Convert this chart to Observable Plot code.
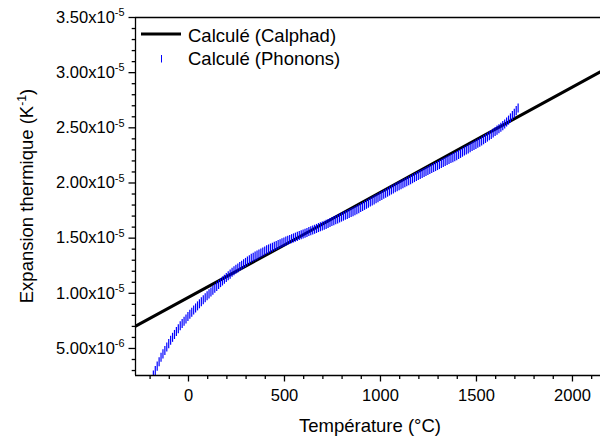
<!DOCTYPE html>
<html><head><meta charset="utf-8">
<script src="https://cdn.jsdelivr.net/npm/d3@7"></script>
<script src="https://cdn.jsdelivr.net/npm/@observablehq/plot@0.6"></script>
<style>
html,body{margin:0;padding:0;background:#fff;}
#chart{position:relative;width:600px;height:438px;}
</style></head><body><div id="chart"></div>
<script>
// Values of the thermal expansion are in units of 1e-6 K^-1
const calphadT = [-273, 500, 1000, 1500, 2200];
const calphadAlpha = [7.05, 14.38, 19.16, 23.94, 30.6];

const phononT = [
-183,-173,-163,-153,-143,-133,-123,-113,-103,-93,
-83,-73,-63,-53,-43,-33,-23,-13,-3,7,
17,27,37,47,57,67,77,87,97,107,
117,127,137,147,157,167,177,187,197,207,
217,227,237,247,257,267,277,287,297,307,
317,327,337,347,357,367,377,387,397,407,
417,427,437,447,457,467,477,487,497,507,
517,527,537,547,557,567,577,587,597,607,
617,627,637,647,657,667,677,687,697,707,
717,727,737,747,757,767,777,787,797,807,
817,827,837,847,857,867,877,887,897,907,
917,927,937,947,957,967,977,987,997,1007,
1017,1027,1037,1047,1057,1067,1077,1087,1097,1107,
1117,1127,1137,1147,1157,1167,1177,1187,1197,1207,
1217,1227,1237,1247,1257,1267,1277,1287,1297,1307,
1317,1327,1337,1347,1357,1367,1377,1387,1397,1407,
1417,1427,1437,1447,1457,1467,1477,1487,1497,1507,
1517,1527,1537,1547,1557,1567,1577,1587,1597,1607,
1617,1627,1637,1647,1657,1667,1677,1687,1697,1707,
1717];
const phononAlpha = [
2.60,3.00,3.40,3.80,4.20,4.51,4.82,5.13,5.44,5.75,
6.01,6.27,6.53,6.79,7.05,7.26,7.47,7.68,7.89,8.10,
8.29,8.48,8.67,8.86,9.05,9.23,9.41,9.59,9.77,9.95,
10.12,10.29,10.46,10.63,10.80,10.97,11.12,11.28,11.43,11.59,
11.74,11.90,12.05,12.18,12.30,12.43,12.55,12.68,12.80,12.93,
13.05,13.18,13.27,13.37,13.46,13.56,13.65,13.75,13.84,13.94,
14.02,14.10,14.18,14.26,14.34,14.42,14.50,14.58,14.66,14.73,
14.80,14.88,14.95,15.02,15.09,15.16,15.24,15.31,15.38,15.45,
15.52,15.60,15.67,15.74,15.81,15.88,15.96,16.03,16.10,16.17,
16.25,16.33,16.42,16.50,16.58,16.66,16.74,16.83,16.91,16.99,
17.07,17.15,17.24,17.32,17.40,17.48,17.57,17.67,17.77,17.87,
17.97,18.07,18.17,18.27,18.37,18.47,18.57,18.67,18.77,18.87,
18.97,19.07,19.17,19.27,19.37,19.46,19.56,19.65,19.74,19.84,
19.93,20.02,20.11,20.21,20.30,20.39,20.49,20.58,20.67,20.77,
20.86,20.95,21.04,21.13,21.22,21.31,21.40,21.49,21.58,21.67,
21.76,21.85,21.94,22.03,22.12,22.21,22.30,22.39,22.48,22.58,
22.68,22.79,22.89,22.99,23.09,23.19,23.30,23.40,23.50,23.60,
23.70,23.81,23.92,24.04,24.16,24.28,24.40,24.53,24.66,24.79,
24.92,25.06,25.20,25.35,25.52,25.70,25.90,26.11,26.33,26.56,
26.80];

const xTicks = [0, 500, 1000, 1500, 2000];
const xTickLabels = ["0", "500", "1000", "1500", "2000"];
const yTicks = [5, 10, 15, 20, 25, 30, 35];
const yTickBase = ["5.00x10", "1.00x10", "1.50x10", "2.00x10", "2.50x10", "3.00x10", "3.50x10"];
const yTickExp = ["-6", "-5", "-5", "-5", "-5", "-5", "-5"];
const seriesNames = ["Calculé (Calphad)", "Calculé (Phonons)"];
const xTitle = "Température (°C)";
const yTitle = "Expansion thermique (K";
const yTitleExp = "-1";

const xDomain = [-276, 2146];
const yDomain = [2.55, 35];
const xMinor = d3.range(-200, 2146, 100).filter(v => !xTicks.includes(v));
const yMinor = d3.range(3, 35, 1).filter(v => !yTicks.includes(v));

const calphad = calphadT.map((t, i) => ({T: t, a: calphadAlpha[i]}));
const phonons = phononT.map((t, i) => ({T: t, a: phononAlpha[i]}));

const vbar = {
  draw(context, size) {
    const h = Math.sqrt(size);
    context.moveTo(0, -h / 2);
    context.lineTo(0, h / 2);
  }
};

const font = "'Liberation Sans', Arial, Helvetica, sans-serif";

const plot = Plot.plot({
  width: 600, height: 438,
  marginLeft: 135, marginRight: 0, marginTop: 17, marginBottom: 63,
  style: {fontFamily: font, fontSize: "16.5px", background: "#fff", color: "#000", overflow: "hidden"},
  x: {domain: xDomain, label: null},
  y: {domain: yDomain, label: null},
  marks: [
    Plot.line(calphad, {x: "T", y: "a", stroke: "#000", strokeWidth: 3, clip: true}),
    Plot.dot(phonons, {x: "T", y: "a", symbol: vbar, r: 5.1, stroke: "#0000ff", strokeWidth: 1.2, fill: "none", clip: true}),
    Plot.ruleY([yDomain[1]], {stroke: "#000", strokeWidth: 1.3}),
    Plot.ruleY([yDomain[0]], {stroke: "#000", strokeWidth: 1.3}),
    Plot.ruleX([xDomain[0]], {stroke: "#000", strokeWidth: 1.3}),
    Plot.axisX(xMinor, {tickSize: 4, tickFormat: () => "", strokeWidth: 1.3, label: null}),
    Plot.axisX(xTicks, {tickSize: 6.5, tickPadding: 7, strokeWidth: 1.3, fontSize: 16.5,
      tickFormat: d => xTickLabels[xTicks.indexOf(d)], label: null}),
    Plot.axisY(yMinor, {tickSize: 3.3, tickFormat: () => "", strokeWidth: 1.3, label: null}),
    Plot.axisY(yTicks, {tickSize: 6.5, tickPadding: 4.5, strokeWidth: 1.3, fontSize: 16.5,
      tickFormat: d => yTickBase[yTicks.indexOf(d)] + "|" + yTickExp[yTicks.indexOf(d)], label: null})
  ]
});

document.getElementById("chart").appendChild(plot);
const svg = d3.select(plot);

// superscripts on y tick labels
svg.selectAll("text").each(function() {
  const t = d3.select(this);
  const s = t.text();
  if (!s.includes("|")) return;
  const [base, exp] = s.split("|");
  t.text(base);
  t.append("tspan").attr("font-size", "0.66em").attr("dy", "-0.6em").text(exp);
});

// axis titles
svg.append("text")
  .attr("x", 370).attr("y", 432)
  .attr("text-anchor", "middle")
  .attr("font-family", font).attr("font-size", 18.5).attr("fill", "#000")
  .text(xTitle);

const yt = svg.append("text")
  .attr("transform", "translate(33,196) rotate(-90)")
  .attr("text-anchor", "middle")
  .attr("font-family", font).attr("font-size", 18.5).attr("fill", "#000");
yt.append("tspan").text(yTitle);
yt.append("tspan").attr("font-size", "0.66em").attr("dy", "-0.6em").text(yTitleExp);
yt.append("tspan").attr("dy", "0.396em").text(")");

// legend
const lg = svg.append("g").attr("font-family", font).attr("font-size", 18.5)
  .attr("fill", "#000").attr("text-anchor", "start");
lg.append("line").attr("x1", 141).attr("x2", 181).attr("y1", 34).attr("y2", 34)
  .attr("stroke", "#000").attr("stroke-width", 3);
lg.append("text").attr("x", 188).attr("y", 41.5).attr("text-anchor", "start").text(seriesNames[0]);
lg.append("line").attr("x1", 161.5).attr("x2", 161.5).attr("y1", 55).attr("y2", 62.5)
  .attr("stroke", "#0000ff").attr("stroke-width", 1);
lg.append("text").attr("x", 188).attr("y", 65).attr("text-anchor", "start").text(seriesNames[1]);
</script></body></html>
